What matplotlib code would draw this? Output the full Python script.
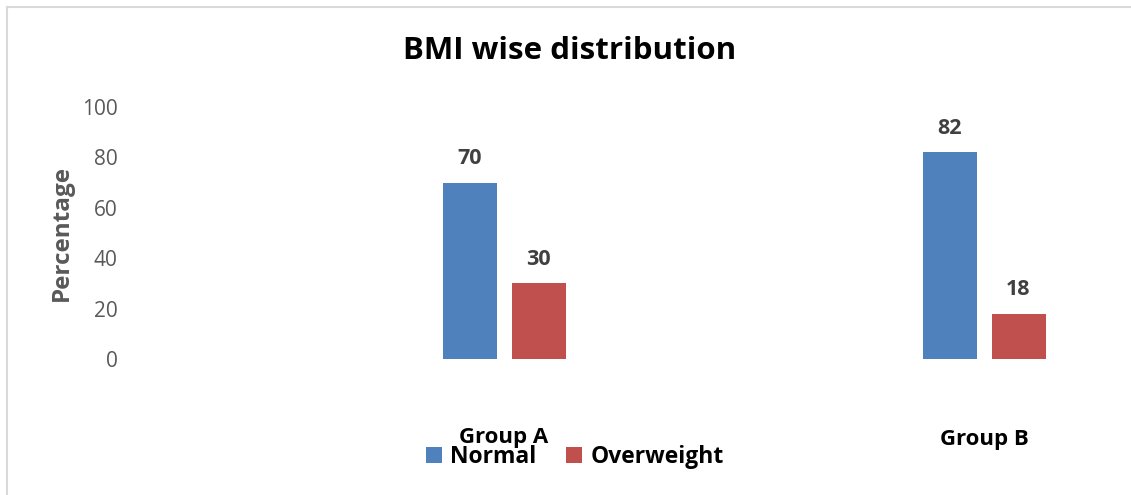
import matplotlib
matplotlib.use("Agg")
import matplotlib.pyplot as plt
from matplotlib.lines import Line2D
from matplotlib.patches import Patch

groups = ["Group A", "Group B"]
series_names = ["Normal", "Overweight"]
normal = [70, 82]
overweight = [30, 18]
yticks = [0, 20, 40, 60, 80, 100]

BLUE = "#4F81BD"
RED = "#C0504D"
GREY = "#595959"
LABEL = "#404040"

plt.rcParams["font.family"] = ["Open Sans", "DejaVu Sans"]

W, H = 1131, 495
fig = plt.figure(figsize=(W / 100, H / 100), dpi=100)

# plot area in pixel terms
px_left, px_right = 130, 1125
px_top, px_bottom = 107, 359
ax = fig.add_axes([px_left / W, 1 - px_bottom / H,
                   (px_right - px_left) / W, (px_bottom - px_top) / H])

# category centres at x=0 and x=1, 480 px apart
unit = 480.0
cA = 504
ax.set_xlim((px_left - cA) / unit, (px_right - cA) / unit)
ax.set_ylim(0, 100)

bw = 54 / unit
off = 34.5 / unit
x = [0, 1]
b1 = ax.bar([i - off for i in x], normal, width=bw, color=BLUE, label=series_names[0])
b2 = ax.bar([i + off for i in x], overweight, width=bw, color=RED, label=series_names[1])

for bars, vals in ((b1, normal), (b2, overweight)):
    for rect, v in zip(bars, vals):
        ax.text(rect.get_x() + rect.get_width() / 2, v + 5.5, f"{v}",
                ha="center", va="bottom", fontsize=15.5, fontweight="bold", color=LABEL)

for s in ax.spines.values():
    s.set_visible(False)
ax.set_xticks([])
ax.set_yticks(yticks)
ax.set_yticklabels([str(t) for t in yticks], fontsize=15, color=GREY)
ax.tick_params(axis="y", length=0, pad=9)

# category labels below the plot
for i, g, dy in zip(x, groups, (-31.0, -32.0)):
    ax.text(i, dy, g, ha="center", va="center", fontsize=16,
            fontweight="bold", color="black")

fig.text(62 / W, 1 - 233 / H, "Percentage", rotation=90, ha="center", va="center",
         fontsize=17.5, fontweight="bold", color=GREY)

fig.text(570 / W, 1 - 51 / H, "BMI wise distribution", ha="center", va="center",
         fontsize=22.5, fontweight="bold", color="black")

handles = [Patch(facecolor=BLUE), Patch(facecolor=RED)]
fig.legend(handles, series_names, loc="center", bbox_to_anchor=(575 / W, 1 - 457 / H),
           ncol=2, frameon=False, handlelength=0.7, handleheight=0.7,
           handletextpad=0.35, columnspacing=1.3,
           prop={"size": 16.5, "weight": "bold"})

# outer frame (left and top edges)
fig.add_artist(Line2D([7 / W, 7 / W], [0, 1 - 7 / H], transform=fig.transFigure,
                      color="#D9D9D9", lw=1.5))
fig.add_artist(Line2D([7 / W, 1], [1 - 7 / H, 1 - 7 / H], transform=fig.transFigure,
                      color="#D9D9D9", lw=1.5))

fig.savefig("out.png", dpi=100, facecolor="white")
